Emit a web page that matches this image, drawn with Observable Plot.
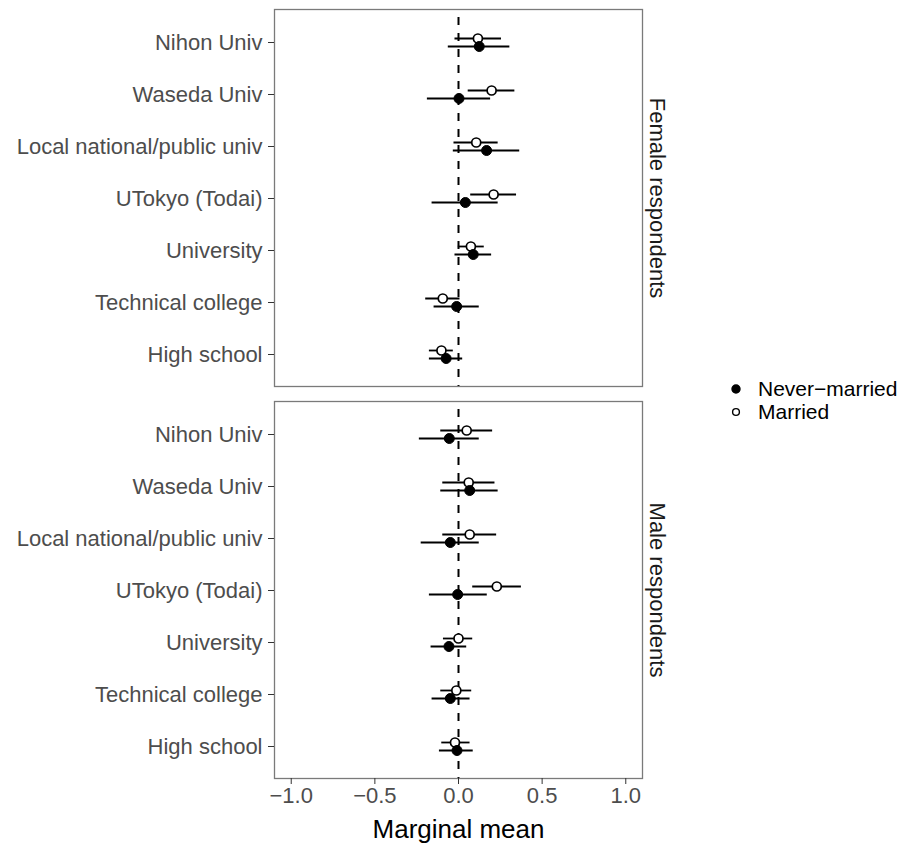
<!DOCTYPE html>
<html><head><meta charset="utf-8">
<script src="https://cdn.jsdelivr.net/npm/d3@7"></script>
<script src="https://cdn.jsdelivr.net/npm/@observablehq/plot@0.6"></script>
<style>
body{margin:0;background:#fff;font-family:"Liberation Sans",Arial,sans-serif}
#wrap{position:relative;width:907px;height:846px}
#legend{position:absolute;left:728px;top:377px;font-size:21px;color:#000;line-height:21px}
#legend .row{display:flex;align-items:center;height:23px}
#legend svg{margin-right:14px}
</style></head><body>
<div id="wrap"><div id="legend"></div></div>
<script>
const categories = ["Nihon Univ","Waseda Univ","Local national/public univ","UTokyo (Todai)","University","Technical college","High school"];
const panels = ["Female respondents","Male respondents"];
const groups = ["Never\u2212married","Married"];
const xTicks = [-1, -0.5, 0, 0.5, 1];

// Female, never-married
const fNeverEst = [0.124, 0.003, 0.168, 0.041, 0.088, -0.011, -0.074];
const fNeverLo  = [-0.061, -0.186, -0.031, -0.158, -0.021, -0.146, -0.174];
const fNeverHi  = [0.307, 0.192, 0.366, 0.237, 0.198, 0.124, 0.025];
// Female, married
const fMarEst = [0.116, 0.198, 0.106, 0.210, 0.074, -0.094, -0.102];
const fMarLo  = [-0.021, 0.058, -0.027, 0.073, -0.001, -0.196, -0.174];
const fMarHi  = [0.257, 0.337, 0.237, 0.347, 0.154, 0.009, -0.031];
// Male, never-married
const mNeverEst = [-0.055, 0.067, -0.049, -0.005, -0.057, -0.049, -0.009];
const mNeverLo  = [-0.234, -0.106, -0.223, -0.174, -0.164, -0.158, -0.114];
const mNeverHi  = [0.124, 0.237, 0.124, 0.172, 0.049, 0.069, 0.088];
// Male, married
const mMarEst = [0.049, 0.061, 0.067, 0.229, 0.000, -0.013, -0.021];
const mMarLo  = [-0.106, -0.094, -0.094, 0.085, -0.090, -0.106, -0.100];
const mMarHi  = [0.204, 0.218, 0.228, 0.376, 0.085, 0.079, 0.069];

function rows(panel, group, est, lo, hi) {
  return categories.map((c, i) => ({panel, group, cat: c, est: est[i], lo: lo[i], hi: hi[i]}));
}
const never = [...rows(panels[0], groups[0], fNeverEst, fNeverLo, fNeverHi), ...rows(panels[1], groups[0], mNeverEst, mNeverLo, mNeverHi)];
const married = [...rows(panels[0], groups[1], fMarEst, fMarLo, fMarHi), ...rows(panels[1], groups[1], mMarEst, mMarLo, mMarHi)];
const strips = panels.map(p => ({panel: p}));

const font = "Liberation Sans, Arial, sans-serif";
const chart = Plot.plot({
  width: 907, height: 846,
  marginLeft: 274, marginRight: 265, marginTop: 8, marginBottom: 67,
  style: {fontFamily: font, fontSize: "22px", background: "#fff", color: "#000"},
  x: {domain: [-1.1, 1.1], axis: null},
  y: {type: "point", domain: categories, padding: 0.6, axis: null},
  fy: {domain: panels, paddingInner: 0.038, paddingOuter: 0, axis: null},
  marks: [
    Plot.ruleX([0], {stroke: "#000", strokeWidth: 2, strokeDasharray: "8,8", strokeDashoffset: 8}),
    Plot.ruleY(married, {y: "cat", x1: "lo", x2: "hi", fy: "panel", dy: -4, stroke: "#000", strokeWidth: 1.8}),
    Plot.dot(married, {x: "est", y: "cat", fy: "panel", dy: -4, r: 4.5, fill: "#fff", stroke: "#000", strokeWidth: 1.7}),
    Plot.ruleY(never, {y: "cat", x1: "lo", x2: "hi", fy: "panel", dy: 4, stroke: "#000", strokeWidth: 1.8}),
    Plot.dot(never, {x: "est", y: "cat", fy: "panel", dy: 4, r: 5, fill: "#000", stroke: "#000", strokeWidth: 1}),
    Plot.frame({stroke: "#7a7a7a", strokeWidth: 1.3}),
    Plot.axisY({tickSize: 6, tickPadding: 6, color: "#4d4d4d", label: null, fontSize: 22, stroke: "#333"}),
    Plot.axisX({ticks: xTicks, tickFormat: d3.format(".1f"), tickSize: 6, tickPadding: 3, color: "#4d4d4d", label: null, fontSize: 22, stroke: "#333"}),
    Plot.text(strips, {fy: "panel", text: "panel", frameAnchor: "right", textAnchor: "middle", lineAnchor: "middle", rotate: 90, dx: 15, fontSize: 22, fill: "#1a1a1a"}),
    Plot.text(strips.slice(1), {fy: "panel", text: () => "Marginal mean", frameAnchor: "bottom", lineAnchor: "middle", dy: 51, fontSize: 26, fill: "#000"})
  ]
});
document.getElementById("wrap").prepend(chart);

const legend = document.getElementById("legend");
legend.innerHTML = groups.map((g, i) => `<div class="row"><svg width="16" height="16"><circle cx="8" cy="8" r="${i === 0 ? 4 : 3.4}" fill="${i === 0 ? '#000' : '#fff'}" stroke="#000" stroke-width="1.4"/></svg><span>${g}</span></div>`).join("");
</script>
</body></html>
